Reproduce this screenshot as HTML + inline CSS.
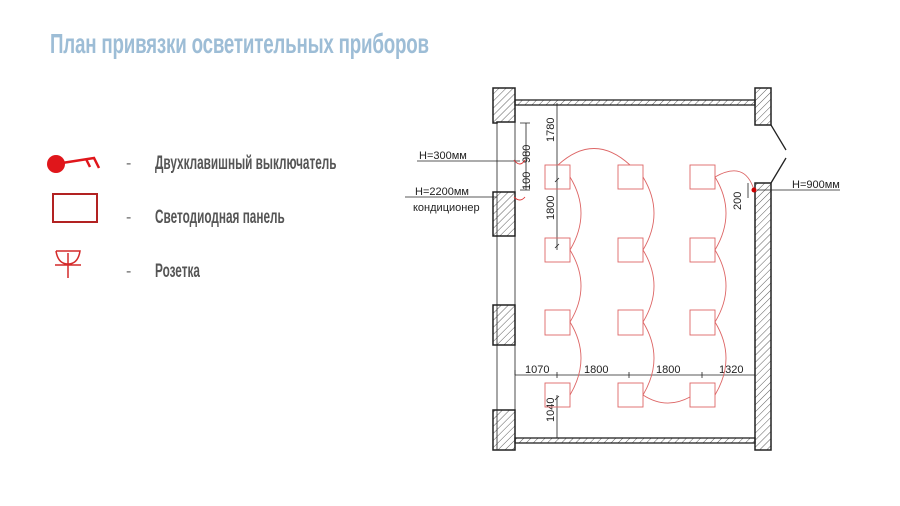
<!DOCTYPE html>
<html><head><meta charset="utf-8"><style>
body{margin:0;background:#fff;width:900px;height:506px;overflow:hidden;position:relative;font-family:"Liberation Sans Narrow","Liberation Sans",sans-serif}
.t{position:absolute;left:50px;top:28px;font-size:28px;color:#9dbdd6;font-weight:bold;transform:scaleX(0.67);transform-origin:left top;white-space:nowrap;letter-spacing:-0.3px}
.l{position:absolute;left:155px;font-size:19px;color:#555;transform:scaleX(0.62);transform-origin:left top;white-space:nowrap;font-weight:bold}
.d{position:absolute;left:126px;font-size:16px;color:#666}
</style></head><body>
<div class="t">План привязки осветительных приборов</div>
<div class="d" style="top:155px">-</div><div class="l" style="top:153px">Двухклавишный выключатель</div>
<div class="d" style="top:209px">-</div><div class="l" style="top:207px">Светодиодная панель</div>
<div class="d" style="top:263px">-</div><div class="l" style="top:261px">Розетка</div>
<svg width="900" height="506" style="position:absolute;left:0;top:0" font-family="Liberation Sans Narrow, Liberation Sans, sans-serif">
<defs><pattern id="h" width="5" height="5" patternUnits="userSpaceOnUse" patternTransform="rotate(45)"><line x1="0" y1="0" x2="0" y2="5" stroke="#333" stroke-width="0.8"/></pattern></defs>
<circle cx="56" cy="164" r="9" fill="#e0161b"/>
<path d="M62 163 L94 158 L99 168 M86 159 L90 167" stroke="#e0161b" stroke-width="2.5" fill="none"/>
<rect x="53" y="194" width="44" height="28" fill="none" stroke="#b22222" stroke-width="2"/>
<path d="M56 251 H80 Q78 264 68 264 Q58 264 56 251 M55 265 H81 M68 253 V278" stroke="#d42a2a" stroke-width="1.5" fill="none"/>
<g stroke="#222" fill="none">
<rect x="515" y="100" width="240" height="5" fill="url(#h)" stroke-width="1.3"/>
<rect x="515" y="438" width="240" height="5" fill="url(#h)" stroke-width="1.3"/>
<path d="M493 88 H515 V122 H497 V123 H493 Z" fill="url(#h)" stroke-width="1.5"/>
<path d="M493 192 H515 V236 H493 Z" fill="url(#h)" stroke-width="1.5"/>
<path d="M493 305 H515 V345 H493 Z" fill="url(#h)" stroke-width="1.5"/>
<path d="M493 410 H515 V450 H493 Z" fill="url(#h)" stroke-width="1.5"/>
<path d="M497 122 V450 M515 122 V192 M515 236 V305 M515 345 V410" stroke-width="0.8"/>
<rect x="755" y="88" width="16" height="37" fill="url(#h)" stroke-width="1.5"/>
<rect x="755" y="183" width="16" height="267" fill="url(#h)" stroke-width="1.5"/>
<path d="M771 125 L786 150 M771 183 L786 158" stroke-width="1.3"/>
<g stroke-width="0.8">
<path d="M557 103 V250 M515 375 V370 M515 375 H755 M557 395 V438 M526 123 V190 M520 190 H530 M520 123 H530 M417 161 H520 M405 197 H497 M757 190 H840 M748 183 V198"/>
<path d="M555 182 l4 -4 M555 248 l4 -4 M555 400 l4 -4 M557 378 v-6 M629 378 v-6 M702 378 v-6 M755 378 v-6"/>
</g>
</g>
<g fill="#222" font-size="11">
<text x="419" y="159">H=300мм</text>
<text x="415" y="195">H=2200мм</text>
<text x="413" y="211">кондиционер</text>
<text x="792" y="188">H=900мм</text>
<text x="525" y="373">1070</text><text x="584" y="373">1800</text><text x="656" y="373">1800</text><text x="719" y="373">1320</text>
<text transform="translate(554,142) rotate(-90)">1780</text>
<text transform="translate(554,220) rotate(-90)">1800</text>
<text transform="translate(554,422) rotate(-90)">1040</text>
<text transform="translate(530,163) rotate(-90)">980</text>
<text transform="translate(530,190) rotate(-90)">100</text>
<text transform="translate(741,210) rotate(-90)">200</text>
</g>
<g stroke="#d66" fill="none" stroke-width="0.9">
<rect x="545" y="165" width="25" height="24"/><rect x="618" y="165" width="25" height="24"/><rect x="690" y="165" width="25" height="24"/>
<rect x="545" y="238" width="25" height="24"/><rect x="618" y="238" width="25" height="24"/><rect x="690" y="238" width="25" height="24"/>
<rect x="545" y="310" width="25" height="25"/><rect x="618" y="310" width="25" height="25"/><rect x="690" y="310" width="25" height="25"/>
<rect x="545" y="383" width="25" height="24"/><rect x="618" y="383" width="25" height="24"/><rect x="690" y="383" width="25" height="24"/>
<path d="M558 165 Q594 132 630 165"/>
<path d="M570 177 Q592 213 570 250 Q592 286 570 322 Q592 358 570 395"/>
<path d="M643 177 Q665 213 643 250 Q665 286 643 322 Q665 358 643 395"/>
<path d="M715 177 Q737 213 715 250 Q737 286 715 322 Q737 358 715 395"/>
<path d="M643 395 Q666 410 690 397"/>
<path d="M715 177 Q745 160 754 190"/>
<path d="M514 160 Q520 168 525 160 M514 197 Q520 203 525 197" stroke="#d33"/>
</g>
<circle cx="754" cy="190" r="2.5" fill="#c00"/>
</svg>
</body></html>
